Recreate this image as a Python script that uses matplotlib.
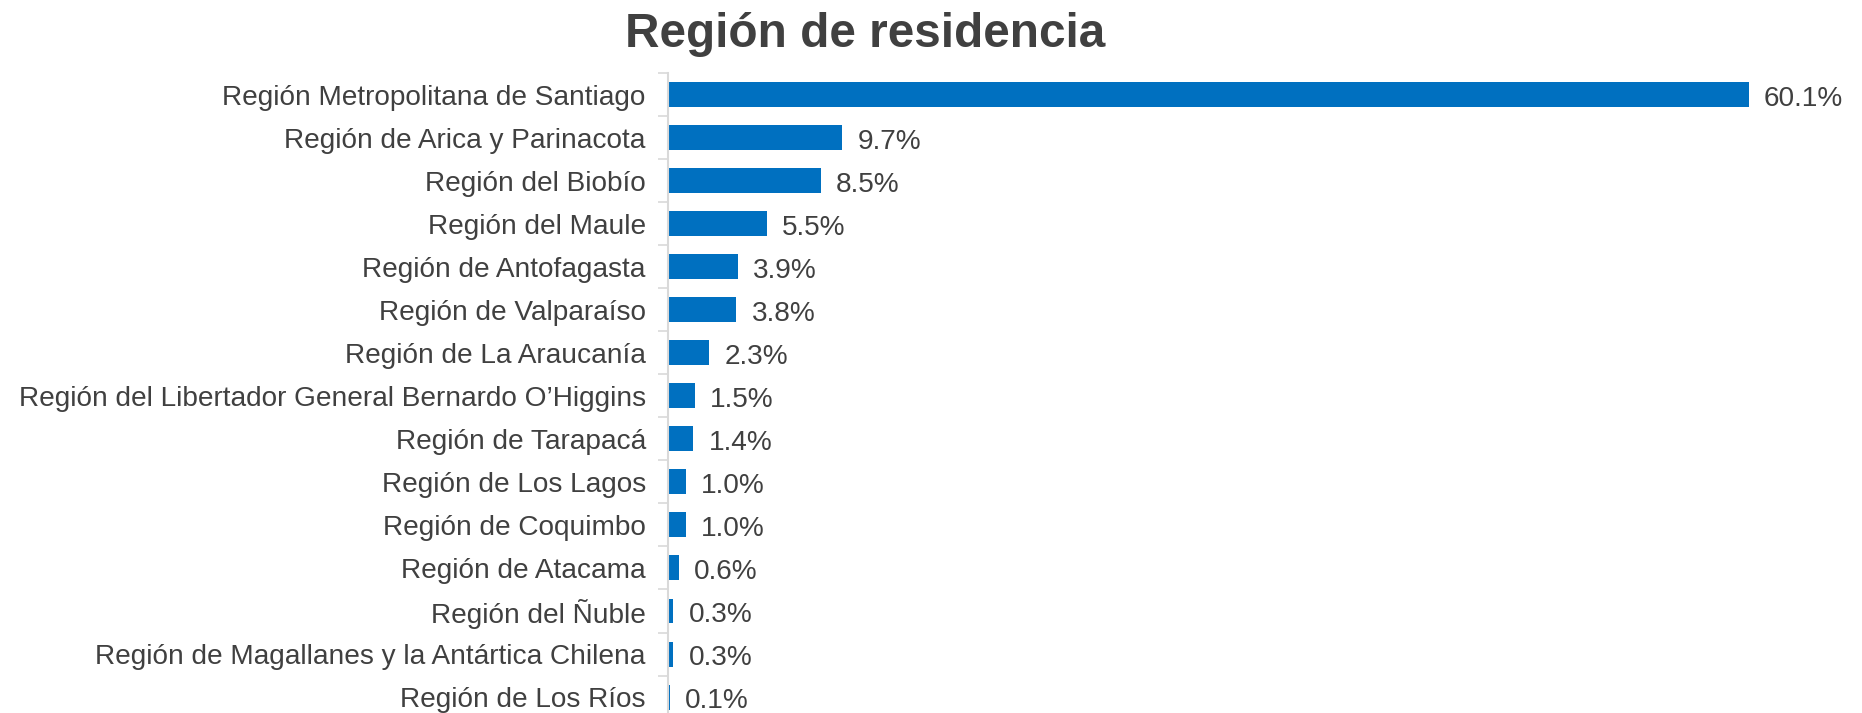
import matplotlib.pyplot as plt

plt.rcParams['font.family'] = ['Liberation Sans', 'DejaVu Sans']

regions = [
  "Región Metropolitana de Santiago",
  "Región de Arica y Parinacota",
  "Región del Biobío",
  "Región del Maule",
  "Región de Antofagasta",
  "Región de Valparaíso",
  "Región de La Araucanía",
  "Región del Libertador General Bernardo O’Higgins",
  "Región de Tarapacá",
  "Región de Los Lagos",
  "Región de Coquimbo",
  "Región de Atacama",
  "Región del Ñuble",
  "Región de Magallanes y la Antártica Chilena",
  "Región de Los Ríos",
]
shares = [60.1, 9.7, 8.5, 5.5, 3.9, 3.8, 2.3, 1.5, 1.4, 1.0, 1.0, 0.6, 0.3, 0.3, 0.1]

textColor = "#404040"
barColor = "#0070C0"
axisColor = "#D9D9D9"

fig = plt.figure(figsize=(18.62, 7.13), dpi=100)
ax = fig.add_axes([668/1862, 0.0, 1 - 668/1862, 1 - 73/713])

pos = list(range(len(regions)))
ax.barh(pos, shares, height=0.58, color=barColor)

# value labels just right of each bar
for y, v in zip(pos, shares):
  ax.annotate(f"{v:.1f}%", xy=(v, y), xytext=(11, -0.8), textcoords="offset points",
              va="center_baseline", ha="left", fontsize=20.2, color=textColor)

ax.set_xlim(0, 66.4)
ax.set_ylim(14.37, -0.5)

ax.set_yticks(pos)
ax.set_yticklabels(regions, fontsize=20.2, color=textColor)
ax.tick_params(axis="y", which="major", length=0, pad=16)
ax.set_yticks([p - 0.5 for p in pos], minor=True)
ax.tick_params(axis="y", which="minor", length=7, width=1.2, color=axisColor)
ax.set_xticks([])

for side in ["top", "right", "bottom"]:
  ax.spines[side].set_visible(False)
ax.spines["left"].set_color(axisColor)
ax.spines["left"].set_linewidth(1.5)

fig.text(865/1862, 1 - 47/713, "Región de residencia", ha="center", va="baseline",
         fontsize=34.4, fontweight="bold", color=textColor)

fig.savefig("out.png", dpi=100)
